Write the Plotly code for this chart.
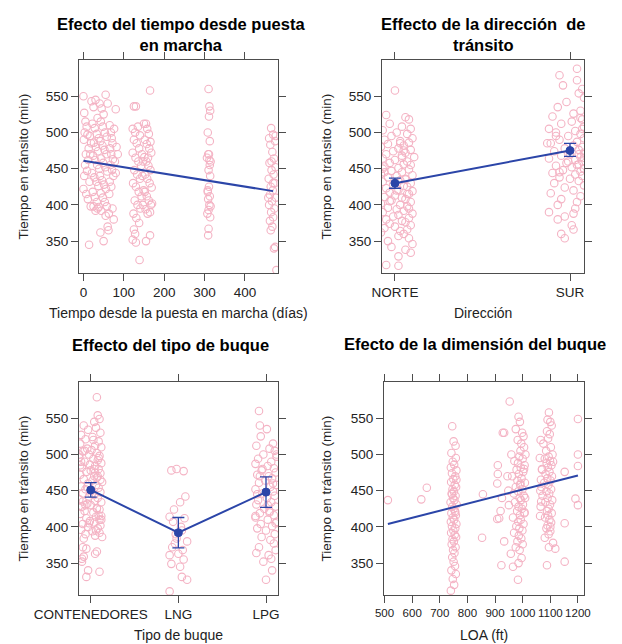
import plotly.graph_objects as go

# ---------------- Panel 1: tiempo desde puesta en marcha ----------------
dias_x = [0,2,5,8,3,10,1,6,12,4, 9,2,15,0,7,11,18,14,20,25, 30,35,22,28,33,38,26,31,36,24,
          29,34,39,21,27,32,37,23,28,33, 38,30,40,45,50,55,60,43,48,53, 58,42,47,52,57,44,49,54,59,41,
          46,51,56,43,48,53,58,44,42,50, 60,62,65,68,70,72,66,69,73,67, 71,74,65,69,72,63,75,80,82,85,
          78,80,76,64,55,35,25,16,19,13, 17,
          125,130,165,122,128,135,140,125,132,138, 145,122,129,136,143,126,133,140,123,130,
          137,144,127,134,141,124,131,138,125,128, 122,130,139,150,155,158,162,152,157,163,
          168,151,156,161,166,153,158,164,169,152, 157,162,167,154,159,165,170,155,165,148,
          146,149,147,160,166,
          310,312,314,311,308,313,309,306,312,315, 310,314,311,308,313,309,312,310,307,314,
          310,309,311,313,308,315,
          465,470,460,475,463,468,472,461,476,466, 471,459,474,464,469,462,477,467,460,473,
          465,470,462,468,464,475,472,478,476,458, 470,466]
dias_y = [550,527,515,508,500,497,490,470,462,455, 447,440,432,422,415,408,398,345,543,535,
          545,520,512,506,498,492,486,480,474,468, 462,455,450,444,438,432,426,418,411,404,
          397,392,540,533,525,552,540,515,508,500, 494,488,482,476,470,464,458,452,446,440,
          434,428,422,416,410,404,398,392,362,350, 370,365,510,500,492,485,478,470,463,455,
          448,440,432,425,395,388,380,532,480,470, 460,444,505,415,385,395,398,495,485,478,
          470,
          536,536,558,505,500,508,496,490,485,478, 470,472,465,460,454,448,442,436,430,425,
          418,412,406,400,395,388,382,375,366,360, 352,348,324,512,512,505,498,490,484,478,
          472,466,460,454,448,442,436,430,424,418, 412,406,400,394,388,390,402,350,358,460,
          440,420,400,465,487,
          560,536,530,522,500,488,470,465,462,460, 448,440,425,418,412,408,400,393,388,383,
          367,358,470,455,420,398,
          506,497,492,488,483,473,464,458,452,448, 442,436,430,425,420,414,410,405,400,395,
          390,383,378,370,365,342,340,310,495,410, 430,460]
dias_fit_x = [0, 470]
dias_fit_y = [461, 419]

# ---------------- Panel 2: dirección ----------------
dir_levels = ["NORTE", "SUR"]
dir_fit = [430, 475]
dir_lo = [423, 467]
dir_hi = [437, 485]
norte_off = [0.00,-0.05,0.06,0.08,-0.03,0.04,0.09,-0.07,0.01,0.07,
             -0.02,0.10,-0.06,0.03,0.08,-0.04,0.05,-0.08,0.02,0.09,
             -0.01,0.06,-0.05,0.04,0.11,-0.07,0.00,0.07,-0.03,0.05,
             0.09,-0.06,0.02,0.08,-0.02,0.04,-0.08,0.10,0.01,-0.04,
             0.06,0.03,-0.07,0.09,-0.01,0.05,0.07,-0.05,0.02,0.10,
             -0.03,0.08,0.00,-0.06,0.04,0.06,-0.02,0.09,-0.08,0.03,
             0.07,-0.04,0.01,0.05,-0.07,0.10,0.02,-0.01,0.08,-0.05,
             0.04,0.06,-0.03,0.09,0.00,-0.06,0.07,0.03,-0.08,0.05,
             0.02,0.08,-0.04,0.10,-0.02,0.06,0.09,0.02,-0.05,0.02,
             0.04,-0.07,0.06,0.01,-0.03,0.08,-0.06,0.05,0.03,0.07]
norte_y = [558,524,521,518,512,508,505,503,500,498, 495,492,490,488,486,484,482,480,478,476,
           474,472,470,468,466,464,462,460,458,456, 455,453,451,449,447,445,443,441,440,438,
           436,434,432,430,428,426,425,423,421,419, 417,415,413,411,410,408,406,404,402,400,
           398,396,394,392,390,388,386,384,382,380, 378,376,374,372,370,368,366,364,362,360,
           357,354,350,346,342,338,334,329,317,316, 465,450,435,420,405,395,445,475,485,415]
sur_off = [0.04,-0.06,0.04,-0.04,0.07,0.05,0.08,-0.02,-0.07,0.06,
           0.02,-0.10,0.07,0.01,-0.05,0.08,-0.12,0.03,-0.08,0.06,
           -0.01,0.08,-0.06,0.04,-0.11,0.02,0.07,-0.03,0.05,-0.09,
           0.08,0.00,-0.05,0.06,-0.12,0.03,0.07,-0.02,0.05,-0.08,
           0.01,0.08,-0.04,0.06,-0.10,0.03,0.07,-0.06,0.00,0.05,
           -0.09,0.08,-0.03,0.02,-0.11,0.06,-0.05,0.04,-0.07,0.03,
           -0.12,0.02,-0.03,-0.07,0.01,0.02,-0.05,-0.03,
           0.07,-0.08,0.05,-0.01,0.08,-0.13,0.06,0.04,-0.06,0.08]
sur_y = [588,579,572,565,560,554,548,542,535,530, 526,522,518,515,512,508,505,502,500,498,
         495,492,490,487,485,482,480,478,476,474, 472,470,468,466,464,462,460,458,456,454,
         452,450,448,446,444,442,440,438,436,433, 430,427,424,420,416,412,408,404,400,395,
         390,388,384,380,372,366,360,354, 505,495,470,460,450,485,520,455,445,465]

# ---------------- Panel 3: tipo de buque ----------------
tipo_levels = ["CONTENEDORES", "LNG", "LPG"]
tipo_fit = [451, 392, 448]
tipo_lo = [441, 371, 427]
tipo_hi = [461, 413, 469]
cont_off = [0.07,0.08,0.10,0.04,-0.08,0.06,-0.03,0.11,-0.11,0.02,
            -0.06,0.09,-0.12,0.05,0.12,-0.04,0.01,-0.09,0.07,-0.02,
            0.10,-0.13,0.03,0.08,-0.07,0.12,-0.01,0.05,-0.10,0.09,
            0.00,-0.05,0.11,-0.12,0.04,0.07,-0.08,0.02,0.13,-0.03,
            0.06,-0.11,0.09,-0.06,0.01,0.11,-0.09,0.04,-0.02,0.08,
            -0.13,0.05,0.12,-0.04,0.00,-0.10,0.07,0.10,-0.07,0.03,
            -0.12,0.09,0.06,-0.05,0.12,-0.01,0.04,-0.09,0.11,-0.03,
            0.08,-0.11,0.02,0.10,-0.06,0.05,0.13,-0.08,
            -0.09,-0.05,0.07,0.05,-0.08,-0.10,-0.10,-0.03,0.10,-0.05,
            0.03,-0.07,0.09,-0.12,0.05,0.11,-0.04,0.01,-0.09,0.07,
            0.12,-0.02,0.06,-0.11,0.08,0.00,-0.06,0.10,-0.13,0.04]
cont_y = [579,554,549,545,540,537,534,530,527,524, 521,518,515,512,510,508,506,504,502,500,
          498,496,494,492,490,488,486,484,482,480, 478,476,474,472,470,468,466,464,462,460,
          458,456,454,452,450,448,446,444,442,440, 438,436,434,432,430,428,426,424,422,420,
          418,416,414,412,410,408,406,404,402,400, 398,396,394,392,390,388,386,384,
          372,370,366,363,359,356,352,340,338,331,
          520,505,495,485,475,465,455,445,435,425, 415,405,395,490,470,450,430,410,500,480]
lng_off = [-0.08,-0.02,0.06,0.08,0.02,-0.05,-0.10,-0.06,0.03,0.04,
           -0.03,-0.02,-0.04,0.10,0.05,-0.10,-0.08,0.02,0.04,0.10,
           -0.10,0.00,-0.07,0.06,0.07]
lng_y = [478,480,477,442,434,424,414,407,400,395, 390,384,377,380,368,361,349,345,331,327,
         311,363,372,355,412]
lpg_off = [-0.08,-0.07,0.01,-0.06,0.08,-0.11,0.04,0.10,-0.03,0.12,
           -0.09,0.06,-0.12,0.02,0.09,-0.05,0.11,-0.10,0.03,0.07,
           -0.01,-0.08,0.12,0.05,-0.12,0.08,-0.04,0.10,0.01,-0.09,
           0.06,-0.11,0.11,-0.02,0.04,-0.07,0.09,-0.12,0.02,0.12,
           -0.06,0.07,-0.10,0.00,0.10,-0.05,0.05,0.09,-0.08,0.11,
           -0.11,0.03,0.06,-0.03,0.07,0.00,
           -0.04,0.08,-0.10,0.04,0.11,-0.07,0.12,0.02,-0.12]
lpg_y = [560,540,535,525,515,512,508,505,500,497, 494,490,487,484,481,478,475,472,470,467,
         464,461,458,455,452,449,446,443,440,437, 434,431,428,425,422,419,416,413,410,407,
         404,401,398,395,390,386,382,377,372,368, 364,361,356,352,340,327,
         480,460,445,420,405,470,500,430,415]

# ---------------- Panel 4: LOA ----------------
loa_x = [512,633,653,853,856,
         910,910,908,908,915,923,928,933,933,920,925,
         745,750,757,742,758,747,752,740,760,744, 756,749,741,754,759,746,751,743,757,748,
         753,739,761,745,750,755,742,758,747,752, 740,760,744,756,749,741,754,759,746,751,
         743,757,748,753,745,750,755,742,758,747, 752,740,760,744,756,
         953,985,990,975,998,1003,982,995,1005,992, 959,988,1000,970,983,1007,993,978,1002,986,
         962,996,981,1008,991,975,999,984,968,1004, 989,994,972,1001,985,997,980,1006,990,965,
         993,984,1003,977,988,999,969,986,995,981, 1000,975,989,957,996,985,965,983,
         1010,1005,992,1009,1007,945,948,950,
         1095,1090,1100,1105,1088,1098,1092,1075,1102,1085, 1108,1094,1080,1099,1087,1104,1091,1070,1097,1083,
         1106,1089,1101,1078,1093,1068,1103,1086,1096,1072, 1090,1107,1082,1099,1065,1094,1088,1105,1092,1081,
         1097,1103,1090,1086,1100,1094,1080,1110,1095,1118, 1088,
         1065,1062,1070,1066,1064,1067,1063,1100,1110,
         1152,1152,1152,1200,1200,1200,1191,1200]
loa_y = [437,438,454,385,445,
         485,473,460,411,412,347,530,530,380,422,440,
         539,518,512,502,495,490,486,482,478,474, 470,466,462,458,455,452,449,446,443,440,
         437,434,431,428,425,422,419,416,413,410, 407,404,401,398,395,392,389,386,383,380,
         376,372,368,364,358,352,346,340,335,328, 320,312,465,445,420,
         573,552,545,535,530,525,520,515,510,505, 500,497,494,491,488,485,482,479,476,473,
         470,467,464,461,458,455,452,449,446,443, 440,437,434,431,428,425,422,419,416,413,
         410,407,404,401,398,395,392,388,384,380, 376,372,368,363,357,350,345,327,
         500,480,460,440,420,470,450,430,
         558,548,545,540,532,528,522,515,510,505, 500,497,494,491,488,485,482,479,476,473,
         470,467,464,461,458,455,452,449,446,443, 440,437,434,431,428,425,422,419,416,413,
         410,406,402,398,394,390,385,378,372,370, 347,
         520,495,480,465,450,435,415,400,490,
         476,405,352,549,500,484,439,430]
loa_fit_x = [512, 1200]
loa_fit_y = [404, 471]

y_ticks = [350, 400, 450, 500, 550]

# ---------------- styling ----------------
W, H = 622, 644
PINK = "#F4B3C4"
BLUE = "#2B45A8"
FRAME = "#4d4d4d"
FONT = "Liberation Sans, Arial, sans-serif"

panels = {
    1: dict(px=(79, 278), py=(60, 273)),
    2: dict(px=(382, 584), py=(60, 273)),
    3: dict(px=(79, 278), py=(382, 595)),
    4: dict(px=(384, 584), py=(382, 595)),
}

def dom(p):
    x0, x1 = panels[p]["px"]
    y0, y1 = panels[p]["py"]
    return [x0 / W, x1 / W], [1 - y1 / H, 1 - y0 / H]

fig = go.Figure()

def pts(x, y, k):
    fig.add_trace(go.Scatter(
        x=x, y=y, mode="markers", xaxis=f"x{k}" if k > 1 else "x", yaxis=f"y{k}" if k > 1 else "y",
        marker=dict(symbol="circle-open", size=7.5, color=PINK, line=dict(width=1.1, color=PINK)),
        showlegend=False, hoverinfo="skip"))

def fitline(x, y, k, lo=None, hi=None):
    ax = f"x{k}" if k > 1 else "x"
    ay = f"y{k}" if k > 1 else "y"
    if lo is None:
        fig.add_trace(go.Scatter(x=x, y=y, mode="lines", xaxis=ax, yaxis=ay,
                                 line=dict(color=BLUE, width=2), showlegend=False))
    else:
        fig.add_trace(go.Scatter(
            x=x, y=y, mode="lines+markers", xaxis=ax, yaxis=ay,
            line=dict(color=BLUE, width=2),
            marker=dict(size=8, color=BLUE, line=dict(width=1, color=BLUE)),
            error_y=dict(type="data", symmetric=False,
                         array=[h - v for h, v in zip(hi, y)],
                         arrayminus=[v - l for l, v in zip(lo, y)],
                         color=BLUE, thickness=1.3, width=6),
            showlegend=False))

# panel 1
pts(dias_x, dias_y, 1)
fitline(dias_fit_x, dias_fit_y, 1)

# panel 2
pos2 = list(range(1, len(dir_levels) + 1))
pts([pos2[0] + o for o in norte_off] + [pos2[1] + o for o in sur_off], norte_y + sur_y, 2)
fitline(pos2, dir_fit, 2, dir_lo, dir_hi)

# panel 3
pos3 = list(range(1, len(tipo_levels) + 1))
pts([pos3[0] + o for o in cont_off] + [pos3[1] + o for o in lng_off] + [pos3[2] + o for o in lpg_off],
    cont_y + lng_y + lpg_y, 3)
fitline(pos3, tipo_fit, 3, tipo_lo, tipo_hi)

# panel 4
pts(loa_x, loa_y, 4)
fitline(loa_fit_x, loa_fit_y, 4)

axis_common = dict(showline=True, linecolor=FRAME, linewidth=1, mirror="ticks",
                   ticks="outside", ticklen=7, tickcolor=FRAME, tickwidth=1,
                   showgrid=False, zeroline=False, automargin=False)
TICKFONT = dict(family=FONT, size=13.5, color="#222")

x_specs = {
    1: dict(range=[-11, 482], tickvals=[0, 100, 200, 300, 400], tickfont=TICKFONT),
    2: dict(range=[0.926, 2.08], tickvals=pos2, ticktext=dir_levels, tickfont=TICKFONT),
    3: dict(range=[0.866, 3.137], tickvals=pos3, ticktext=tipo_levels, tickfont=TICKFONT),
    4: dict(range=[498, 1222], tickvals=[500, 600, 700, 800, 900, 1000, 1100, 1200],
            tickfont=dict(family=FONT, size=11.5, color="#222")),
}
layout = {}
for k in range(1, 5):
    xd, yd = dom(k)
    xs = "xaxis" if k == 1 else f"xaxis{k}"
    ys = "yaxis" if k == 1 else f"yaxis{k}"
    layout[xs] = dict(domain=xd, anchor="y" if k == 1 else f"y{k}", tickangle=0,
                      **axis_common, **x_specs[k])
    layout[ys] = dict(domain=yd, anchor="x" if k == 1 else f"x{k}", range=[306, 600],
                      tickvals=y_ticks, tickfont=TICKFONT, **axis_common)

fig.update_layout(width=W, height=H, margin=dict(l=0, r=0, t=0, b=0),
                  plot_bgcolor="white", paper_bgcolor="white", **layout)

titles = {
    1: "<b>Efecto del tiempo desde puesta<br>en marcha</b>",
    2: "<b>Effecto de la dirección  de<br>tránsito</b>",
    3: "<b>Effecto del tipo de buque</b>",
    4: "<b>Efecto de la dimensión del buque</b>",
}
title_pos = {1: (181, 34), 2: (483, 34), 3: (170, 345), 4: (475, 344)}
xlabels = {1: "Tiempo desde la puesta en marcha (días)", 2: "Dirección",
           3: "Tipo de buque", 4: "LOA (ft)"}
xlabel_y = {1: 313, 2: 313, 3: 635, 4: 635}
ylabel_x = {1: 23, 2: 326, 3: 23, 4: 326}

for k in range(1, 5):
    x0, x1 = panels[k]["px"]
    y0, y1 = panels[k]["py"]
    cx = (x0 + x1) / 2
    tx, ty = title_pos[k]
    fig.add_annotation(x=tx / W, y=1 - ty / H, xref="paper", yref="paper",
                       text=titles[k], showarrow=False, xanchor="center", yanchor="middle",
                       font=dict(family=FONT, size=16.5, color="black"))
    fig.add_annotation(x=cx / W, y=1 - xlabel_y[k] / H, xref="paper", yref="paper",
                       text=xlabels[k], showarrow=False, xanchor="center", yanchor="middle",
                       font=dict(family=FONT, size=14, color="#222"))
    fig.add_annotation(x=ylabel_x[k] / W, y=1 - ((y0 + y1) / 2) / H, xref="paper", yref="paper",
                       text="Tiempo en tránsito (min)", showarrow=False, textangle=-90,
                       xanchor="center", yanchor="middle",
                       font=dict(family=FONT, size=13.5, color="#222"))

fig.write_html("out.html", config={"displayModeBar": False},
               post_script="document.body.style.margin='0';document.body.style.padding='0';")
